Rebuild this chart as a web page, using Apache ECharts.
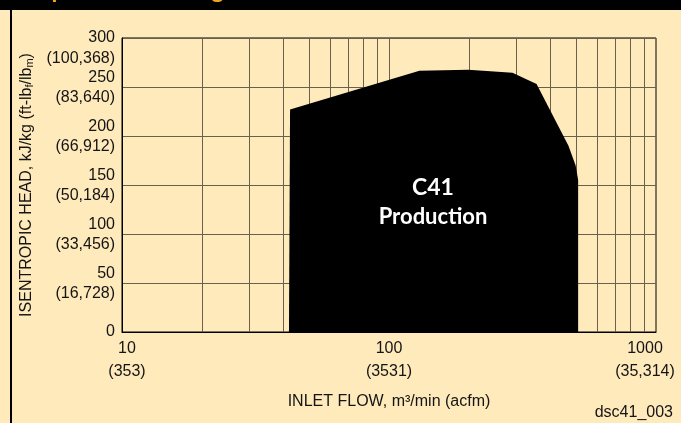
<!DOCTYPE html>
<html><head><meta charset="utf-8">
<script src="https://cdn.jsdelivr.net/npm/echarts@6/dist/echarts.min.js"></script>
<style>html,body{margin:0;padding:0;background:#FFEABC}#c{width:681px;height:423px}</style>
</head><body><div id="c"></div>
<script>
// Envelope of the C41 production region (inlet flow m3/min, head kJ/kg)
const flowValues = [42.2, 42.6, 130, 198, 290, 357, 470, 500, 511, 511];
const headValues = [0, 227, 266.5, 267.5, 264.5, 253, 190, 170, 155, 0];
// Axis ticks and secondary (imperial) labels
const xTickValues = [10, 100, 1000];
const xTickMain = ['10', '100', '1000'];
const xTickSecondary = ['(353)', '(3531)', '(35,314)'];
const yTickValues = [0, 50, 100, 150, 200, 250, 300];
const yTickSecondary = ['', '(16,728)', '(33,456)', '(50,184)', '(66,912)', '(83,640)', '(100,368)'];
// Logarithmic minor grid lines
const minorFlowLines = [20, 30, 40, 50, 60, 70, 80, 90, 100, 200, 300, 400, 500, 600, 700, 800, 900];
const yMin = 0, yMax = 300;

const chart = echarts.init(document.getElementById('c'), null, {renderer: 'canvas'});
const FONT = 'Liberation Sans, Arial, sans-serif';
const TXT = '#141414';
const GRIDC = '#6a604f';

chart.setOption({
  backgroundColor: '#FFEABC',
  animation: false,
  grid: {left: 122, right: 25, top: 38, bottom: 91, show: true, borderColor: '#000', borderWidth: 1,
    backgroundColor: 'transparent', containLabel: false, outerBoundsMode: 'none'},
  xAxis: {
    type: 'log', logBase: 10, min: 10, max: 1000,
    axisLine: {show: true, lineStyle: {color: '#000', width: 1}},
    axisTick: {show: false},
    splitLine: {show: false},
    axisLabel: {
      margin: 5,
      formatter: function (v) {
        const i = xTickValues.indexOf(Math.round(v));
        if (i < 0) return '';
        const sfx = i === 0 ? 'L' : (i === xTickValues.length - 1 ? 'R' : 'C');
        return '{a' + sfx + '|' + xTickMain[i] + '}\n{a' + sfx + '|' + xTickSecondary[i] + '}';
      },
      rich: {
        aL: {fontSize: 16, fontFamily: FONT, color: TXT, lineHeight: 23, padding: [0, 0, 0, 10]},
        aC: {fontSize: 16, fontFamily: FONT, color: TXT, lineHeight: 23},
        aR: {fontSize: 16, fontFamily: FONT, color: TXT, lineHeight: 23, padding: [0, 22, 0, 0]}
      }
    },
    name: 'INLET FLOW, m³/min (acfm)',
    nameLocation: 'middle', nameGap: 62,
    nameTextStyle: {fontSize: 16, fontFamily: FONT, color: TXT}
  },
  yAxis: {
    type: 'value', min: yMin, max: yMax, interval: 50,
    axisLine: {show: true, lineStyle: {color: '#000', width: 1}},
    axisTick: {show: false},
    splitLine: {show: true, lineStyle: {color: GRIDC, width: 1}},
    axisLabel: {
      margin: 7, align: 'right',
      formatter: function (v) {
        const i = yTickValues.indexOf(v);
        if (i === 0) return '{n|' + v + '}';
        if (i === yTickValues.length - 1) return '{n| }\n{n|' + v + '}\n{n|' + yTickSecondary[i] + '}';
        return '{t|' + v + '}\n{n|' + yTickSecondary[i] + '}';
      },
      rich: {
        n: {fontSize: 16, fontFamily: FONT, color: TXT, lineHeight: 21, align: 'right'},
        t: {fontSize: 16, fontFamily: FONT, color: TXT, lineHeight: 21, align: 'right', padding: [3, 0, 0, 0]}
      }
    },
    name: 'ISENTROPIC HEAD, kJ/kg (ft-lb{s|f}/lb{s|m})',
    nameLocation: 'middle', nameRotate: 90, nameGap: 83,
    nameTextStyle: {
      fontSize: 16, fontFamily: FONT, color: TXT,
      rich: {s: {fontSize: 11, fontFamily: FONT, color: TXT, verticalAlign: 'bottom', padding: [7, 0, 0, 0]}}
    }
  },
  series: [
    {
      type: 'custom', z: 1, silent: true,
      data: minorFlowLines.map(v => [v, yMin]),
      renderItem: function (params, api) {
        const v = api.value(0);
        const p0 = api.coord([v, yMin]);
        const p1 = api.coord([v, yMax]);
        return {type: 'line', shape: {x1: Math.round(p0[0]) + 0.5, y1: p0[1], x2: Math.round(p1[0]) + 0.5, y2: p1[1]},
          style: {stroke: GRIDC, lineWidth: 1}};
      }
    },
    {
      type: 'custom', z: 5, silent: true,
      data: [[flowValues[0], headValues[0]]],
      renderItem: function (params, api) {
        const pts = flowValues.map((f, i) => api.coord([f, headValues[i]]));
        return {type: 'polygon', shape: {points: pts}, style: {fill: '#000'}};
      }
    }
  ],
  graphic: [
    {type: 'rect', shape: {x: 0, y: 0, width: 681, height: 10}, style: {fill: '#000'}, z: 100},
    {type: 'rect', shape: {x: 10, y: 0, width: 2, height: 423}, style: {fill: '#000'}, z: 100},
    {type: 'text', z: 101, style: {text: 'Compressor Coverage', x: 2, y: -10, font: 'bold 24px Lato, sans-serif', fill: '#F5A31E', verticalAlign: 'middle'}},
    {type: 'text', z: 110, style: {text: 'C41', x: 433, y: 188, font: 'bold 23px Lato, sans-serif', fill: '#fff', align: 'center', verticalAlign: 'middle'}},
    {type: 'text', z: 110, style: {text: 'Production', x: 433, y: 217, font: 'bold 22px Lato, sans-serif', fill: '#fff', align: 'center', verticalAlign: 'middle'}},
    {type: 'text', z: 110, style: {text: 'dsc41_003', x: 673, y: 413, font: '16px ' + FONT, fill: TXT, align: 'right', verticalAlign: 'middle'}}
  ]
});
</script>
</body></html>
